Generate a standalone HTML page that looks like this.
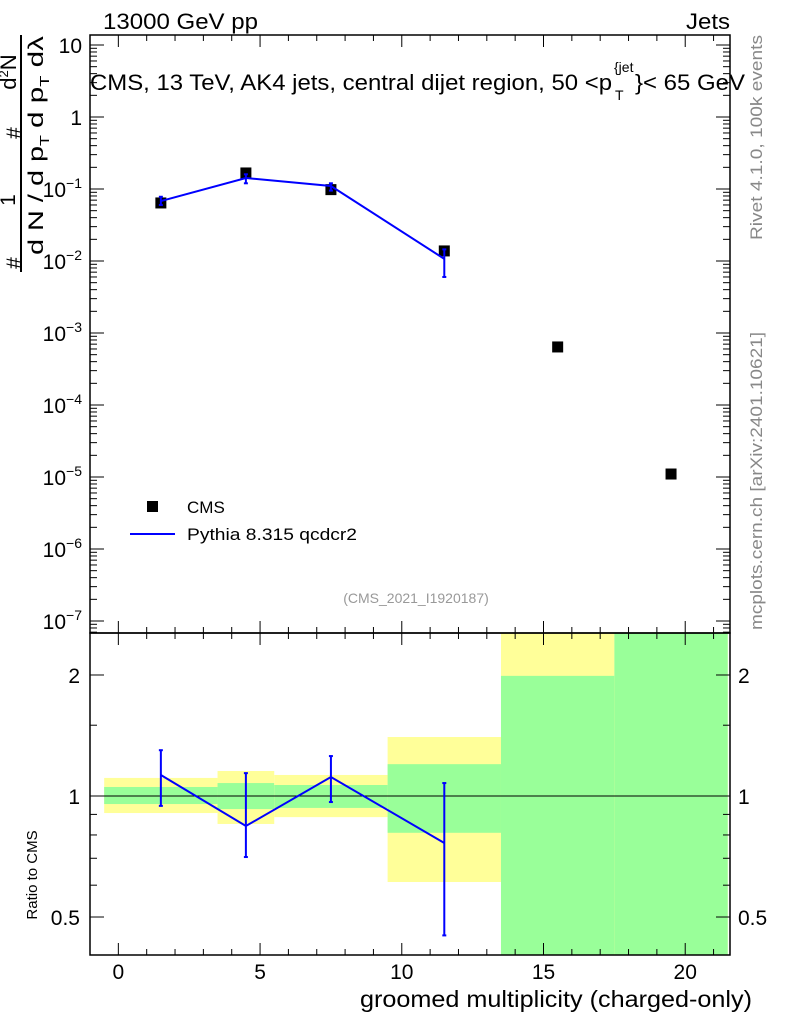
<!DOCTYPE html>
<html><head><meta charset="utf-8"><style>
body{margin:0;background:#fff;}
svg text{font-family:"Liberation Sans",sans-serif;}
</style></head><body>
<svg id="c" width="786" height="1024" viewBox="0 0 786 1024" xmlns="http://www.w3.org/2000/svg"></svg>
<script>
const xs=[1.5,4.5,7.5,11.5,15.5,19.5];
const cmsVals=[0.064,0.167,0.098,0.0138,0.00064,0.000011];
const mcX=[1.5,4.5,7.5,11.5];
const mcVals=[0.068,0.142,0.11,0.0107];
const mcLo=[0.06,0.12,0.095,0.006];
const mcHi=[0.078,0.16,0.12,0.0145];
const ratioVals=[1.128,0.842,1.115,0.764];
const ratioLo=[0.945,0.705,0.966,0.45];
const ratioHi=[1.3,1.14,1.257,1.077];
const binEdges=[-0.5,3.5,5.5,9.5,13.5,17.5,21.5];
const yelLo=[0.907,0.852,0.886,0.611,0.3,0.3];
const yelHi=[1.109,1.154,1.128,1.402,3,3];
const grnLo=[0.955,0.928,0.934,0.81,0.3,0.3];
const grnHi=[1.053,1.077,1.065,1.2,1.99,3];
const xTicks=[0,5,10,15,20];
const yExps=[1,0,-1,-2,-3,-4,-5,-6,-7];
const rTicks=[0.5,1,2];

const S=document.getElementById('c');const NS='http://www.w3.org/2000/svg';
function el(t,a,p){const e=document.createElementNS(NS,t);for(const k in a)e.setAttribute(k,a[k]);(p||S).appendChild(e);return e;}
const X0=90,X1=730,T=35,M=633,B=955;
const xmin=-1,xmax=21.58;
const X=v=>X0+(v-xmin)/(xmax-xmin)*(X1-X0);
const Y=v=>117-72*Math.log10(v);
const R=v=>796-402*Math.log10(v);

const gb=el('g',{});
el('clipPath',{id:'rc'}).appendChild(el('rect',{x:X0,y:M,width:X1-X0,height:B-M}));
gb.setAttribute('clip-path','url(#rc)');
for(let i=0;i<xs.length;i++){
 const y=el('rect',{x:X(binEdges[i]),y:R(yelHi[i]),width:X(binEdges[i+1])-X(binEdges[i]),height:R(yelLo[i])-R(yelHi[i]),fill:'#ffff99'},gb);
 
 const g=el('rect',{x:X(binEdges[i]),y:R(grnHi[i]),width:X(binEdges[i+1])-X(binEdges[i]),height:R(grnLo[i])-R(grnHi[i]),fill:'#99ff99'},gb);
 
}
el('line',{x1:X0,x2:X1,y1:R(1),y2:R(1),stroke:'#000','stroke-width':1});

el('rect',{x:X0,y:T,width:X1-X0,height:M-T,fill:'none',stroke:'#000','stroke-width':1.5});
el('rect',{x:X0,y:M,width:X1-X0,height:B-M,fill:'none',stroke:'#000','stroke-width':1.5});

for(let v=-1;v<=21;v++){const big=v%5===0;const L=big?12:6;
 for(const [yb,yt] of [[M,T],[B,M]]){el('line',{x1:X(v),x2:X(v),y1:yb,y2:yb-L,stroke:'#000'});el('line',{x1:X(v),x2:X(v),y1:yt,y2:yt+L,stroke:'#000'});}}
xTicks.forEach(v=>{const t=el('text',{x:X(v),y:979,'font-size':21,'text-anchor':'middle'});t.textContent=v;});

yExps.forEach(e=>{const y=Y(Math.pow(10,e));
 el('line',{x1:X0,x2:X0+14,y1:y,y2:y,stroke:'#000'});el('line',{x1:X1,x2:X1-14,y1:y,y2:y,stroke:'#000'});
 for(let m=2;m<=9;m++){const yy=Y(m*Math.pow(10,e-1));if(yy>M||yy<T)continue;el('line',{x1:X0,x2:X0+7,y1:yy,y2:yy,stroke:'#000'});el('line',{x1:X1,x2:X1-7,y1:yy,y2:yy,stroke:'#000'});}
 const t=el('text',{x:82,y:y+8,'font-size':21,'text-anchor':'end'});
 if(e===1)t.textContent='10';else if(e===0)t.textContent='1';else{t.textContent='10';const s=el('tspan',{dy:-9,'font-size':14},t);s.textContent=String(e).replace('-','\u2212');}
 
});
for(let m=2;m<=9;m++){const yy=Y(m*10);if(yy<T)continue;el('line',{x1:X0,x2:X0+7,y1:yy,y2:yy,stroke:'#000'});el('line',{x1:X1,x2:X1-7,y1:yy,y2:yy,stroke:'#000'});}
rTicks.forEach(v=>{const y=R(v);el('line',{x1:X0,x2:X0+14,y1:y,y2:y,stroke:'#000'});el('line',{x1:X1,x2:X1-14,y1:y,y2:y,stroke:'#000'});
 const a=el('text',{x:80,y:y+8,'font-size':21,'text-anchor':'end'});a.textContent=v;
 const b=el('text',{x:738,y:y+8,'font-size':21});b.textContent=v;});
[0.6,0.7,0.8,0.9,1.5].forEach(v=>{const y=R(v);el('line',{x1:X0,x2:X0+7,y1:y,y2:y,stroke:'#000'});el('line',{x1:X1,x2:X1-7,y1:y,y2:y,stroke:'#000'});});

xs.forEach((x,i)=>{const r=el('rect',{x:X(x)-5.5,y:Y(cmsVals[i])-5.5,width:11,height:11,fill:'#000'});});
const mp=el('polyline',{points:mcX.map((x,i)=>X(x)+','+Y(mcVals[i])).join(' '),fill:'none',stroke:'#0000ff','stroke-width':2});

mcX.forEach((x,i)=>{el('line',{x1:X(x),x2:X(x),y1:Y(mcLo[i]),y2:Y(mcHi[i]),stroke:'#0000ff','stroke-width':2});
 el('line',{x1:X(x)-2,x2:X(x)+2,y1:Y(mcLo[i]),y2:Y(mcLo[i]),stroke:'#0000ff','stroke-width':2});el('line',{x1:X(x)-2,x2:X(x)+2,y1:Y(mcHi[i]),y2:Y(mcHi[i]),stroke:'#0000ff','stroke-width':2});});
const rp=el('polyline',{points:mcX.map((x,i)=>X(x)+','+R(ratioVals[i])).join(' '),fill:'none',stroke:'#0000ff','stroke-width':2});

mcX.forEach((x,i)=>{el('line',{x1:X(x),x2:X(x),y1:R(ratioLo[i]),y2:R(ratioHi[i]),stroke:'#0000ff','stroke-width':2});
 el('line',{x1:X(x)-2,x2:X(x)+2,y1:R(ratioLo[i]),y2:R(ratioLo[i]),stroke:'#0000ff','stroke-width':2});el('line',{x1:X(x)-2,x2:X(x)+2,y1:R(ratioHi[i]),y2:R(ratioHi[i]),stroke:'#0000ff','stroke-width':2});});
</script>
<svg width="786" height="1024" style="position:absolute;left:0;top:0" xmlns="http://www.w3.org/2000/svg">
<text x="103" y="29" font-size="22" textLength="155" lengthAdjust="spacingAndGlyphs">13000 GeV pp</text>
<text x="686" y="29" font-size="22" textLength="44" lengthAdjust="spacingAndGlyphs">Jets</text>
<g>
<text x="90" y="90" font-size="22" textLength="522" lengthAdjust="spacingAndGlyphs">CMS, 13 TeV, AK4 jets, central dijet region, 50 &lt;p</text>
<text x="615" y="100" font-size="14">T</text>
<text x="614" y="72" font-size="14">{jet</text>
<text x="635" y="90" font-size="22" textLength="110" lengthAdjust="spacingAndGlyphs">}&lt; 65 GeV</text>
</g>
<g>
<rect x="147" y="501" width="11" height="11" fill="#000"/>
<text x="187" y="513" font-size="17">CMS</text>
<line x1="130" x2="175" y1="534" y2="534" stroke="#0000ff" stroke-width="2"/>
<text x="187" y="540" font-size="17" textLength="170" lengthAdjust="spacingAndGlyphs">Pythia 8.315 qcdcr2</text>
</g>
<text x="416" y="603" font-size="14" fill="#999" text-anchor="middle">(CMS_2021_I1920187)</text>
<text x="360" y="1007" font-size="23" textLength="392" lengthAdjust="spacingAndGlyphs">groomed multiplicity (charged-only)</text>
<text transform="translate(37,875) rotate(-90)" font-size="15" text-anchor="middle">Ratio to CMS</text>
<g>
<line x1="21" x2="21" y1="35" y2="272" stroke="#000" stroke-width="2"/>
<text transform="translate(21,263) rotate(-90)" text-anchor="middle" font-size="21">#</text>
<text transform="translate(15,200) rotate(-90)" text-anchor="middle" font-size="21">1</text>
<text transform="translate(21,133) rotate(-90)" text-anchor="middle" font-size="21">#</text>
<text transform="translate(16,72) rotate(-90)" text-anchor="middle" font-size="22">d<tspan font-size="13" dy="-8">2</tspan><tspan dy="8">N</tspan></text>
<text transform="translate(43,255) rotate(-90)" font-size="21" textLength="120" lengthAdjust="spacingAndGlyphs">d N / d p<tspan font-size="13" dy="6">T</tspan></text>
<text transform="translate(43,128) rotate(-90)" font-size="21" textLength="92" lengthAdjust="spacingAndGlyphs">d p<tspan font-size="13" dy="6">T</tspan><tspan dy="-6"> d&#955;</tspan></text>
</g>
<text transform="translate(762,240) rotate(-90)" font-size="17" fill="#888" textLength="205" lengthAdjust="spacingAndGlyphs">Rivet 4.1.0,  100k events</text>
<text transform="translate(762,630) rotate(-90)" font-size="17" fill="#888" textLength="298" lengthAdjust="spacingAndGlyphs">mcplots.cern.ch [arXiv:2401.10621]</text>
</svg>
</body></html>
